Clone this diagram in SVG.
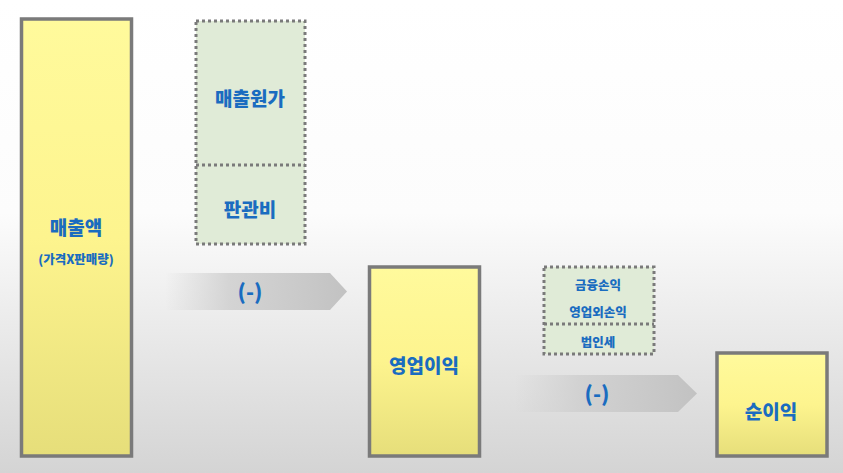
<svg xmlns="http://www.w3.org/2000/svg" width="843" height="473" viewBox="0 0 843 473">
<defs>
<linearGradient id="bg" x1="0" y1="0" x2="0" y2="1">
<stop offset="0" stop-color="#ffffff"/>
<stop offset="0.45" stop-color="#fcfcfc"/>
<stop offset="1" stop-color="#d4d4d4"/>
</linearGradient>
<linearGradient id="yel" x1="0" y1="0" x2="0" y2="1">
<stop offset="0" stop-color="#fffa9c"/>
<stop offset="0.5" stop-color="#fdf48e"/>
<stop offset="1" stop-color="#e6de7a"/>
</linearGradient>
<linearGradient id="arr" x1="0" y1="0" x2="1" y2="0">
<stop offset="0" stop-color="#d0d0d0" stop-opacity="0"/>
<stop offset="0.35" stop-color="#cfcfcf" stop-opacity="0.85"/>
<stop offset="1" stop-color="#c2c2c2"/>
</linearGradient>
<style>
.solid{fill:url(#yel);stroke:#7a7a7a;stroke-width:3.5}
.dot{fill:#e0ebd7;stroke:#7a7a7a;stroke-width:3;stroke-dasharray:3 3}
.div{stroke:#7a7a7a;stroke-width:3;stroke-dasharray:3 3;fill:none}
.t{font-family:"Noto Sans CJK KR","Noto Sans",sans-serif;font-weight:900;fill:#1a6cc0;text-anchor:middle;dominant-baseline:central}
.big{font-size:19px}
.sm{font-size:12.5px}
.op{font-size:21px}
</style>
</defs>
<rect x="0" y="0" width="843" height="473" fill="url(#bg)"/>
<g id="connectors">
<polygon points="165,273 330,273 347,291.5 330,310 165,310" fill="url(#arr)"/>
<text class="t op" x="250" y="291">(-)</text>
<polygon points="515,375 678,375 697,393.5 678,412 515,412" fill="url(#arr)"/>
<text class="t op" x="597" y="393">(-)</text>
</g>
<g id="sales">
<rect class="solid" x="21.5" y="19" width="110" height="437"/>
<text class="t big" x="76" y="226">매출액</text>
<text class="t sm" x="76" y="258">(가격X판매량)</text>
</g>
<g id="costs">
<rect class="dot" x="196" y="21" width="109" height="223"/>
<line class="div" x1="196" y1="165" x2="305" y2="165"/>
<text class="t big" x="250" y="97">매출원가</text>
<text class="t big" x="250" y="208">판관비</text>
</g>
<g id="operating">
<rect class="solid" x="369.5" y="267" width="110" height="189"/>
<text class="t big" x="424" y="364">영업이익</text>
</g>
<g id="nonop">
<rect class="dot" x="544" y="267" width="110" height="87"/>
<line class="div" x1="544" y1="324" x2="654" y2="324"/>
<text class="t sm" x="598" y="284">금융손익</text>
<text class="t sm" x="598" y="311">영업외손익</text>
<text class="t sm" x="598" y="341">법인세</text>
</g>
<g id="net">
<rect class="solid" x="717" y="353" width="110" height="103"/>
<text class="t big" x="771" y="410">순이익</text>
</g>
</svg>
